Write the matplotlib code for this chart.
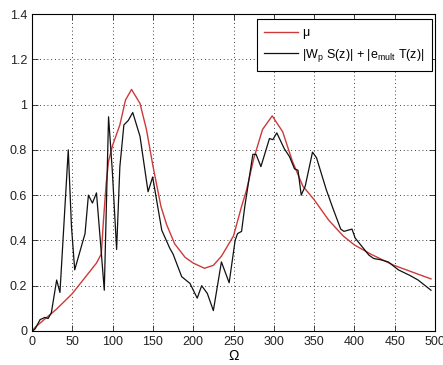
import matplotlib
matplotlib.use("Agg")
import matplotlib.pyplot as plt

# mu (red) curve
mu_x = [0, 5, 10, 20, 30, 40, 50, 60, 70, 80, 86, 88.5, 92, 95, 100, 109, 116, 123.5,
        134, 142, 150, 160, 167, 177, 190, 200, 214, 225, 235, 250, 260, 266, 275, 286,
        298, 311, 323, 336, 350, 368, 386, 400, 420, 449, 472, 495]
mu_y = [0, 0.02, 0.035, 0.065, 0.095, 0.13, 0.165, 0.21, 0.255, 0.3, 0.34, 0.48, 0.65, 0.75,
        0.82, 0.91, 1.02, 1.067, 1.005, 0.89, 0.73, 0.55, 0.47, 0.385, 0.325, 0.30, 0.277,
        0.29, 0.33, 0.42, 0.55, 0.62, 0.76, 0.89, 0.95, 0.88, 0.75, 0.64, 0.58, 0.49, 0.42,
        0.38, 0.34, 0.29, 0.26, 0.23]

# |Wp S(z)| + |e_mult T(z)| (black) curve
bound_x = [1, 4, 10, 16, 20, 24, 30.6, 34.7, 45, 49, 53, 65.8, 70, 75, 80, 85, 89.7, 95,
           99.6, 105, 109, 114, 119.5, 125, 134, 144, 149.7, 161, 171, 175, 185.7, 196,
           205, 210.5, 217.5, 225, 235, 244.6, 252, 255, 260, 264, 274, 278, 284, 294.6,
           298.8, 303.7, 313, 319.5, 325.7, 330, 334, 339, 348, 353, 365, 373, 383, 387,
           397, 401, 418, 424, 432, 442, 454.5, 469, 479, 495]
bound_y = [0, 0.01, 0.05, 0.06, 0.055, 0.08, 0.225, 0.17, 0.80, 0.46, 0.27, 0.43, 0.60, 0.565,
           0.61, 0.39, 0.18, 0.946, 0.71, 0.36, 0.725, 0.91, 0.93, 0.965, 0.86, 0.615, 0.68,
           0.445, 0.365, 0.34, 0.24, 0.21, 0.145, 0.20, 0.166, 0.09, 0.305, 0.213, 0.40,
           0.43, 0.44, 0.55, 0.78, 0.78, 0.726, 0.85, 0.845, 0.875, 0.805, 0.77, 0.716,
           0.71, 0.60, 0.64, 0.79, 0.765, 0.625, 0.545, 0.45, 0.44, 0.45, 0.41, 0.335, 0.32,
           0.315, 0.305, 0.27, 0.245, 0.225, 0.18]

xticks = [0, 50, 100, 150, 200, 250, 300, 350, 400, 450, 500]
yticks = [0, 0.2, 0.4, 0.6, 0.8, 1, 1.2, 1.4]
ytick_labels = ["0", "0.2", "0.4", "0.6", "0.8", "1", "1.2", "1.4"]

plt.rcParams['font.family'] = ['Liberation Sans', 'DejaVu Sans']
plt.rcParams['mathtext.default'] = 'regular'

fig = plt.figure(figsize=(4.43, 3.65), dpi=100)
ax = fig.add_axes([0.0722, 0.0932, 0.9098, 0.8684])

ax.plot(mu_x, mu_y, color='#cc3a3a', lw=1.0, label=r'$\mu$')
ax.plot(bound_x, bound_y, color='#111111', lw=0.9,
        label=r'$|W_p\ S(z)|$ + $|e_{mult}\ T(z)|$')

ax.set_xlim(0, 500)
ax.set_ylim(0, 1.4)
ax.set_xticks(xticks)
ax.set_yticks(yticks)
ax.set_yticklabels(ytick_labels)
ax.tick_params(direction='in', top=True, right=True, labelsize=9, length=4, width=0.6,
               colors='#222222')
ax.grid(True, color='black', linestyle=(0, (1, 3.5)), linewidth=0.6)
for s in ax.spines.values():
    s.set_linewidth(0.8)
ax.set_xlabel('Ω', fontsize=10, labelpad=1)

leg = ax.legend(loc='upper right', bbox_to_anchor=(0.993, 0.983), fontsize=9, frameon=True,
                fancybox=False, edgecolor='black', framealpha=1, borderaxespad=0,
                handlelength=2.7, handletextpad=0.35, borderpad=0.6, labelspacing=0.45)
leg.get_frame().set_linewidth(0.8)

fig.savefig('out.png', dpi=100)
